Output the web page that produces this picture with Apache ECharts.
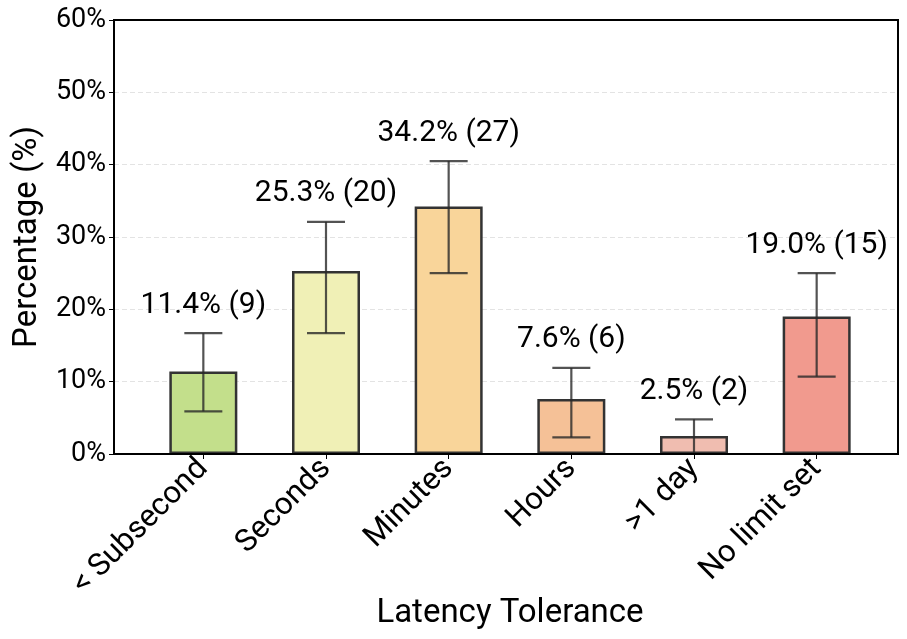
<!DOCTYPE html>
<html>
<head>
<meta charset="utf-8">
<script src="https://cdn.jsdelivr.net/npm/echarts@6/dist/echarts.min.js"></script>
<style>html,body{margin:0;padding:0;background:#fff}#c{width:907px;height:639px}</style>
</head>
<body>
<div id="c"></div>
<script>
const categories = ['< Subsecond', 'Seconds', 'Minutes', 'Hours', '>1 day', 'No limit set'];
const percentages = [11.4, 25.3, 34.2, 7.6, 2.5, 19.0];
const counts = [9, 20, 27, 6, 2, 15];
const errLow = [5.9, 16.7, 25.0, 2.3, 0.0, 10.7];
const errHigh = [16.7, 32.1, 40.5, 11.9, 4.8, 25.0];
const barColors = ['#c3df8b', '#f0f0b6', '#f9d59a', '#f5c197', '#f0bdb0', '#f19a8e'];
const yTicks = [0, 10, 20, 30, 40, 50, 60];

const chart = echarts.init(document.getElementById('c'), null, {renderer: 'canvas'});
const FONT = 'Roboto';

const errData = categories.map((c, i) => [i, errLow[i], errHigh[i], percentages[i], counts[i]]);

const option = {
  backgroundColor: '#fff',
  animation: false,
  textStyle: {fontFamily: FONT},
  grid: [
    {left: 114, right: 9, top: 20, bottom: 185, show: true, borderColor: '#000', borderWidth: 2, backgroundColor: 'transparent', containLabel: false, outerBoundsMode: 'none'},
    {left: 142, right: 29, top: 20, bottom: 185, containLabel: false, outerBoundsMode: 'none'}
  ],
  xAxis: [
    {gridIndex: 0, type: 'value', min: 0, max: 1, position: 'bottom', z: 10,
      axisLine: {show: true, lineStyle: {color: '#000', width: 2}},
      axisTick: {show: false}, axisLabel: {show: false}, splitLine: {show: false}},
    {gridIndex: 1, type: 'category', data: categories, boundaryGap: true,
      axisLine: {show: false},
      axisTick: {show: true, alignWithLabel: true, length: 5, lineStyle: {color: '#000', width: 1}},
      axisLabel: {rotate: 45, fontSize: 31, color: '#000', fontFamily: FONT, margin: 10, interval: 0},
      name: 'Latency Tolerance', nameLocation: 'middle', nameGap: 143, nameMoveOverlap: false,
      nameTextStyle: {fontSize: 33, color: '#000', fontFamily: FONT}
    }
  ],
  yAxis: [
    {gridIndex: 0, type: 'value', min: 0, max: 60, interval: 10,
      axisLine: {show: true, lineStyle: {color: '#000', width: 2}},
      axisTick: {show: true, length: 5, lineStyle: {color: '#000', width: 1}},
      axisLabel: {formatter: v => yTicks.includes(v) ? v + '%' : '', fontSize: 27, color: '#000', fontFamily: FONT, margin: 8},
      splitLine: {show: true, showMinLine: false, showMaxLine: false, lineStyle: {color: '#e3e3e3', type: [5, 3], width: 1}},
      name: 'Percentage (%)', nameLocation: 'middle', nameGap: 70, nameMoveOverlap: false,
      nameTextStyle: {fontSize: 33, color: '#000', fontFamily: FONT}
    },
    {gridIndex: 1, type: 'value', min: 0, max: 60, interval: 10, show: false, splitLine: {show: false}}
  ],
  series: [
    {
      type: 'bar', xAxisIndex: 1, yAxisIndex: 1, barWidth: 68,
      data: percentages.map((v, i) => ({value: v, itemStyle: {color: barColors[i]}})),
      itemStyle: {borderColor: '#333', borderWidth: 2.5},
      z: 2
    },
    {
      type: 'custom', xAxisIndex: 1, yAxisIndex: 1, z: 5,
      data: errData,
      renderItem: function (params, api) {
        const x = api.value(0);
        const lo = api.coord([x, api.value(1)]);
        const hi = api.coord([x, api.value(2)]);
        const half = 19;
        const st = {stroke: 'rgba(40,40,40,0.8)', lineWidth: 2.2};
        return {
          type: 'group',
          children: [
            {type: 'line', shape: {x1: lo[0], y1: lo[1], x2: hi[0], y2: hi[1]}, style: st},
            {type: 'line', shape: {x1: hi[0] - half, y1: hi[1], x2: hi[0] + half, y2: hi[1]}, style: st},
            {type: 'line', shape: {x1: lo[0] - half, y1: lo[1], x2: lo[0] + half, y2: lo[1]}, style: st},
            {type: 'text', style: {
              x: hi[0], y: hi[1] - 13,
              text: api.value(3).toFixed(1) + '% (' + api.value(4) + ')',
              textAlign: 'center', textVerticalAlign: 'bottom',
              fontSize: 30, fontFamily: FONT, fill: '#000'
            }}
          ]
        };
      }
    }
  ]
};
chart.setOption(option);
</script>
</body>
</html>
